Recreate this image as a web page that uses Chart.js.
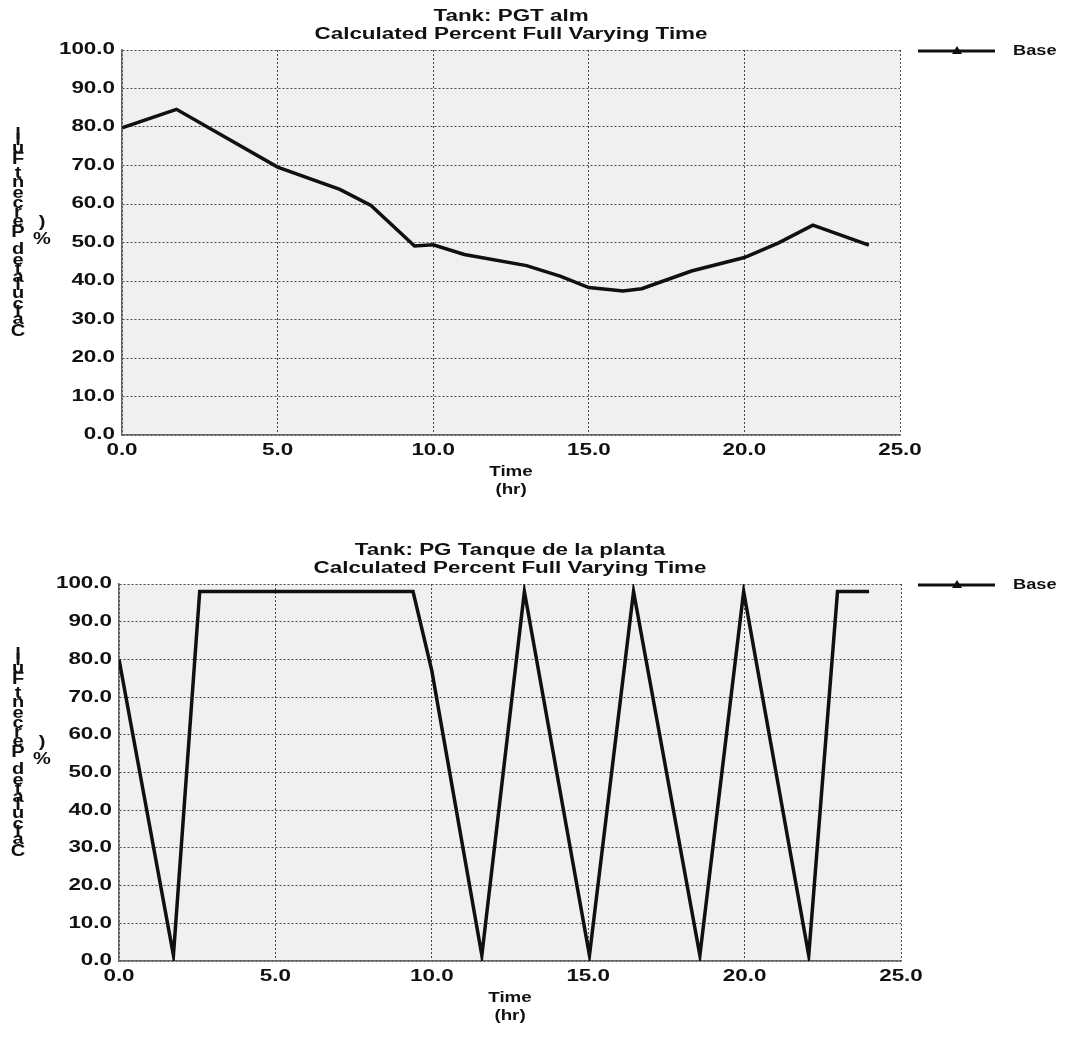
<!DOCTYPE html>
<html>
<head>
<meta charset="utf-8">
<title>Calculated Percent Full Varying Time</title>
<script src="https://cdn.jsdelivr.net/npm/chart.js@4.4.1/dist/chart.umd.min.js"></script>
<style>
  html, body { margin: 0; padding: 0; background: #fff; }
  canvas { display: block; }
</style>
</head>
<body>
<canvas id="cAlm" width="1068" height="520"></canvas>
<canvas id="cPlanta" width="1068" height="517"></canvas>
<script>
/* ===========================================================================
   nivel de tanques · % lleno vs tiempo (hr)
   =========================================================================== */
const almHours    = [0, 1.75, 5, 7, 8, 9.4, 10, 11, 13, 14.1, 15, 16.1, 16.7, 18.3, 20, 21.1, 22.2, 24];
const almPct      = [79.8, 84.6, 69.6, 63.8, 59.6, 49.1, 49.4, 46.9, 44.0, 41.2, 38.3, 37.4, 38.0, 42.6, 46.1, 49.9, 54.5, 49.3];
const plantaHours = [0, 1.74, 2.58, 9.4, 10, 11.6, 12.96, 15.04, 16.45, 18.57, 19.97, 22.05, 22.97, 23.98];
const plantaPct   = [80, 1.5, 98, 98, 77, 1.5, 98, 1.5, 98, 1.5, 98, 1.5, 98, 98];

const timeTicks = [0, 5, 10, 15, 20, 25];
const pctTicks  = [0, 10, 20, 30, 40, 50, 60, 70, 80, 90, 100];
const almTitle    = ['Tank: PGT alm', 'Calculated Percent Full Varying Time'];
const plantaTitle = ['Tank: PG Tanque de la planta', 'Calculated Percent Full Varying Time'];
const xTitle = ['Time', '(hr)'];
const yTitle = 'Calculated Percent Full';
const yUnit  = '%)';
const seriesName = 'Base';

const FONT = '"Liberation Sans", Arial, sans-serif';
const INK = '#111';

/* texto ensanchado en horizontal (las letras del informe salen anchas) */
function wide(ctx, txt, x, y, align, size, sx = 1.4) {
  ctx.save();
  ctx.font = `bold ${size}px ${FONT}`;
  ctx.fillStyle = INK;
  ctx.textAlign = align;
  ctx.textBaseline = 'middle';
  ctx.translate(x, y);
  ctx.scale(sx, 1);
  ctx.fillText(txt, 0, 0);
  ctx.restore();
}

/* letras derechas apiladas de abajo hacia arriba */
function stack(ctx, txt, x, yBot, yTop, size) {
  ctx.save();
  ctx.font = `bold ${size}px ${FONT}`;
  const chars = [...txt];
  const mid = []; let s = 0;
  chars.forEach(c => { const w = ctx.measureText(c).width; mid.push(s + w / 2); s += w; });
  ctx.restore();
  const k = (yBot - yTop) / (mid[mid.length - 1] - mid[0] || 1);
  chars.forEach((c, i) => { if (c !== ' ') wide(ctx, c, x, yBot - (mid[i] - mid[0]) * k, 'center', size, 1.25); });
}

const papel = {
  id: 'papel',
  beforeDraw(chart) {
    const { ctx, chartArea: a } = chart;
    ctx.save();
    ctx.fillStyle = '#f0f0f0';
    ctx.fillRect(a.left, a.top, a.right - a.left, a.bottom - a.top);
    ctx.restore();
  },
  afterDraw(chart, args, o) {
    const { ctx, chartArea: a, scales: { x, y } } = chart;
    const cx = (a.left + a.right) / 2;
    o.title.forEach((t, i) => wide(ctx, t, cx, a.top - 33 + i * 18, 'center', 16));
    y.ticks.forEach((t, i) => wide(ctx, t.label, a.left - 7, y.getPixelForTick(i), 'right', 16));
    x.ticks.forEach((t, i) => wide(ctx, t.label, x.getPixelForTick(i), a.bottom + 16, 'center', 16));
    xTitle.forEach((t, i) => wide(ctx, t, cx, a.bottom + 37 + i * 18, 'center', 15, 1.25));
    stack(ctx, yTitle, 18, 332, 135, 16);
    stack(ctx, yUnit, 42, 240, 223, 16);

    // leyenda: línea con marcador al centro
    const ds = chart.data.datasets[0];
    const ly = a.top + 1;
    ctx.save();
    ctx.strokeStyle = ds.borderColor; ctx.lineWidth = 3;
    ctx.beginPath(); ctx.moveTo(918, ly); ctx.lineTo(995, ly); ctx.stroke();
    ctx.fillStyle = ds.borderColor;
    ctx.beginPath(); ctx.moveTo(957, ly - 5); ctx.lineTo(962, ly + 3); ctx.lineTo(952, ly + 3); ctx.closePath(); ctx.fill();
    ctx.restore();
    wide(ctx, ds.label, 1013, ly, 'left', 14, 1.3);
  }
};

function tanque(id, hours, pct, caja, titulo) {
  const c = document.getElementById(id);
  const grid = { color: '#4a4a4a', lineWidth: 1, drawTicks: false };
  const border = { display: true, color: '#666', width: 1.5, dash: [2, 2] };
  return new Chart(c, {
    type: 'line',
    data: { datasets: [{
      label: seriesName,
      data: hours.map((h, i) => ({ x: h, y: pct[i] })),
      borderColor: '#101010', borderWidth: 3.5, pointRadius: 0, tension: 0, fill: false,
    }] },
    options: {
      responsive: false, animation: false, events: [],
      layout: { padding: { top: caja.top, right: c.width - caja.right, bottom: 0, left: 0 } },
      plugins: { legend: { display: false }, title: { display: false }, tooltip: { enabled: false }, papel: { title: titulo } },
      scales: {
        x: {
          type: 'linear', min: 0, max: 25,
          afterBuildTicks: s => { s.ticks = timeTicks.map(v => ({ value: v })); },
          afterFit: s => { s.height = c.height - caja.bottom; },
          ticks: { display: false, callback: v => v.toFixed(1) },
          grid, border,
        },
        y: {
          min: 0, max: 100,
          afterBuildTicks: s => { s.ticks = pctTicks.map(v => ({ value: v })); },
          afterFit: s => { s.width = caja.left; },
          ticks: { display: false, callback: v => v.toFixed(1) },
          grid, border,
        },
      },
    },
    plugins: [papel],
  });
}

tanque('cAlm', almHours, almPct, { left: 122, right: 900, top: 50, bottom: 435 }, almTitle);
tanque('cPlanta', plantaHours, plantaPct, { left: 119, right: 901, top: 64, bottom: 441 }, plantaTitle);
</script>
</body>
</html>
